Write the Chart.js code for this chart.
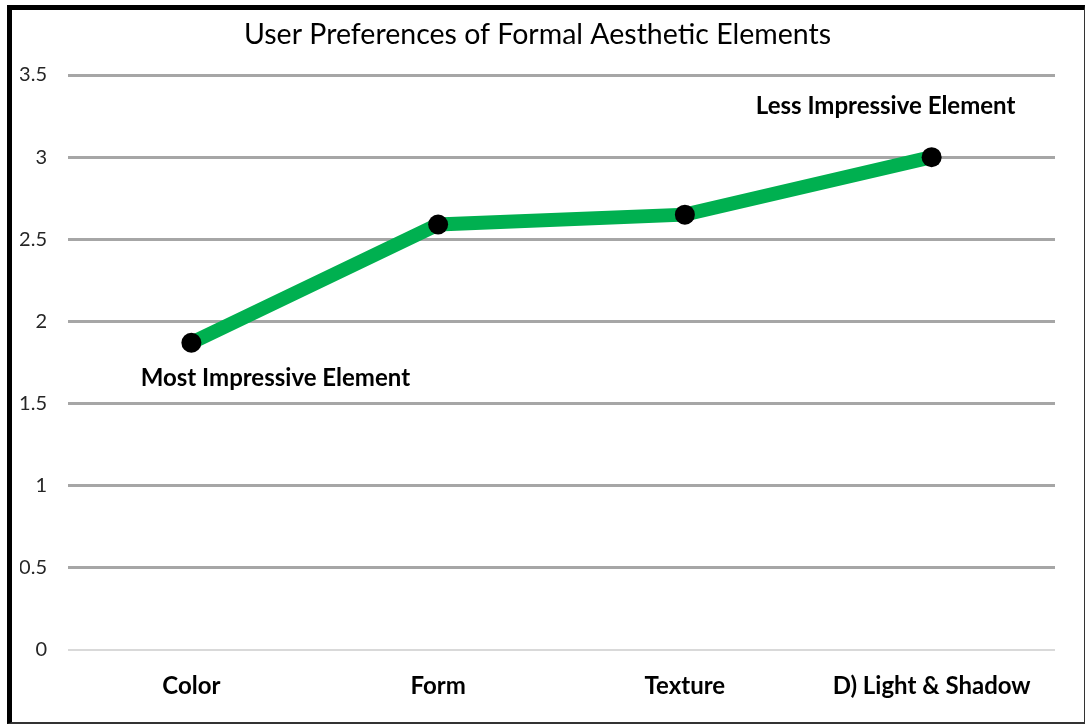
<!DOCTYPE html>
<html>
<head>
<meta charset="utf-8">
<script src="https://cdn.jsdelivr.net/npm/chart.js@4"></script>
<style>
  html, body { margin: 0; padding: 0; background: #fff; }
  #wrap { position: relative; width: 1087px; height: 725px; }
  #frame {
    position: absolute; left: 7px; top: 5px; width: 1072px; height: 712px;
    border-left: 5px solid #000; border-top: 5px solid #000;
    border-right: 1px solid #333; border-bottom: 2px solid #333;
    pointer-events: none;
  }
</style>
</head>
<body>
<div id="wrap">
  <canvas id="chart" width="1087" height="725"></canvas>
  <div id="frame"></div>
</div>
<script>
// Formal aesthetic elements and their mean preference rank
const categories = ['Color', 'Form', 'Texture', 'D) Light & Shadow'];
const rankValues = [1.87, 2.59, 2.65, 3.0];
const yTicks = [0, 0.5, 1, 1.5, 2, 2.5, 3, 3.5];
const pointNotes = ['Most Impressive Element', '', '', 'Less Impressive Element'];

const FONT = 'Lato, "Open Sans", sans-serif';

// Writes the note text beside the first and last points
const notePlugin = {
  id: 'pointNotes',
  afterDatasetsDraw(chart) {
    const meta = chart.getDatasetMeta(0);
    const ctx = chart.ctx;
    ctx.save();
    ctx.font = 'bold 24px ' + FONT;
    ctx.fillStyle = '#000';
    ctx.textAlign = 'center';
    ctx.textBaseline = 'middle';
    meta.data.forEach((pt, i) => {
      const txt = pointNotes[i];
      if (!txt) return;
      if (i === 0) ctx.fillText(txt, pt.x + 84, pt.y + 35);
      else ctx.fillText(txt, pt.x - 46, pt.y - 51);
    });
    ctx.restore();
  }
};

new Chart(document.getElementById('chart'), {
  type: 'line',
  data: {
    labels: categories,
    datasets: [{
      data: rankValues,
      borderColor: '#00B050',
      borderWidth: 14,
      pointRadius: 10,
      pointHoverRadius: 10,
      pointBackgroundColor: '#000',
      pointBorderColor: '#000',
      pointBorderWidth: 0,
      tension: 0,
      fill: false
    }]
  },
  options: {
    responsive: false,
    animation: false,
    layout: { padding: { left: 20, right: 32, top: 0, bottom: 0 } },
    plugins: {
      legend: { display: false },
      tooltip: { enabled: false },
      title: {
        display: true,
        text: 'User Preferences of Formal Aesthetic Elements',
        color: '#000',
        font: { family: FONT, size: 28.5, weight: 'normal' },
        padding: { top: 18, bottom: 22.8 }
      }
    },
    scales: {
      x: {
        offset: true,
        grid: { display: false, drawTicks: false },
        border: { display: false },
        ticks: {
          color: '#000',
          padding: 21.6,
          font: { family: FONT, size: 24, weight: 'bold' }
        },
        afterFit(scale) { scale.height = 75; }
      },
      y: {
        min: 0,
        max: 3.5,
        afterBuildTicks(scale) { scale.ticks = yTicks.map(v => ({ value: v })); },
        grid: {
          drawTicks: false,
          color: ctx => (ctx.tick && ctx.tick.value === 0) ? '#d9d9d9' : '#a6a6a6',
          lineWidth: ctx => (ctx.tick && ctx.tick.value === 0) ? 2 : 3
        },
        border: { display: false },
        ticks: {
          color: '#262626',
          padding: 21,
          font: { family: FONT, size: 20 },
          callback: v => String(v)
        },
        afterFit(scale) { scale.width = 48; }
      }
    }
  },
  plugins: [notePlugin]
});
</script>
</body>
</html>
